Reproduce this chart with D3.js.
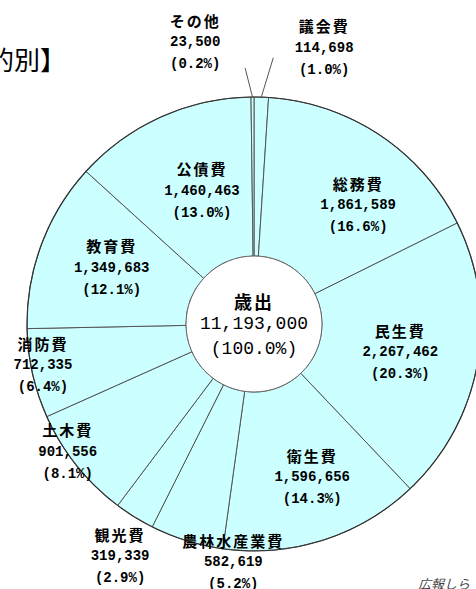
<!DOCTYPE html>
<html>
<head>
<meta charset="utf-8">
<script src="https://cdn.jsdelivr.net/npm/d3@7"></script>
<style>
  body { margin: 0; background: #fff; overflow: hidden; }
  svg { display: block; }
  .name { font-family: "Noto Sans CJK JP", sans-serif; font-weight: 700; font-size: 15px; letter-spacing: 2px; }
  .num { font-family: "Liberation Mono", "DejaVu Sans Mono", monospace; font-weight: 700; font-size: 14px; }
</style>
</head>
<body>
<svg class="chart"></svg>
<script>
// data, clockwise from 12 o'clock
var categories = ['議会費', '総務費', '民生費', '衛生費', '農林水産業費', '観光費',
                  '土木費', '消防費', '教育費', '公債費', 'その他'];
var amounts = [114698, 1861589, 2267462, 1596656, 582619, 319339,
               901556, 712335, 1349683, 1460463, 23500];
var percents = ['1.0', '16.6', '20.3', '14.3', '5.2', '2.9',
                '8.1', '6.4', '12.1', '13.0', '0.2'];
var totalLabel = '歳出';
var totalAmount = 11193000;
var totalPercent = '100.0';

function show() {
    'use strict';

    var width = 476, height = 589;
    var cx = 254, cy = 324, outerR = 227, innerR = 68;

    // label placement: radius and angle offset (deg) from slice middle
    var labelLayout = [
        { r: 285, da: 12.4, lead: { r: 267, da: 2.3 } },
        { r: 158, da: 7.6 },
        { r: 149, da: 0.9 },
        { r: 164, da: -3 },
        { r: 239, da: -12.3 },
        { r: 268, da: -1.8 },
        { r: 226, da: 4.1 },
        { r: 215, da: 1.6 },
        { r: 153, da: 1.0 },
        { r: 143, da: 2.9 },
        { r: 288, da: -11.4, lead: { r: 256, da: -1.6 } }
    ];

    var svg = d3.select('.chart')
        .attr('width', width)
        .attr('height', height);

    // cut-off title and footer
    svg.append('text')
        .attr('x', 66).attr('y', 58)
        .attr('text-anchor', 'end')
        .attr('dominant-baseline', 'central')
        .style('font-family', '"Noto Sans CJK JP", sans-serif')
        .style('font-size', '26px')
        .text('【歳出目的別】');

    svg.append('text')
        .attr('x', 418).attr('y', 583)
        .attr('dominant-baseline', 'central')
        .style('font-family', '"Noto Sans CJK JP", sans-serif')
        .style('font-size', '13px')
        .style('font-style', 'italic')
        .attr('fill', '#444')
        .text('広報しら');

    var g = svg.append('g')
        .attr('transform', 'translate(' + cx + ',' + cy + ')');

    var rows = categories.map(function (c, i) {
        return { name: c, amount: amounts[i], pct: percents[i], i: i };
    });

    var pie = d3.pie()
        .sort(null)
        .value(function (d) { return d.amount; });

    var arc = d3.arc()
        .innerRadius(innerR)
        .outerRadius(outerR);

    var slices = pie(rows);

    g.selectAll('path.slice').data(slices)
        .enter()
        .append('path')
        .attr('class', 'slice')
        .attr('d', arc)
        .attr('fill', '#ccffff')
        .attr('stroke', '#555')
        .attr('stroke-width', 1);

    // outer border
    g.append('circle')
        .attr('r', outerR)
        .attr('fill', 'none')
        .attr('stroke', '#333')
        .attr('stroke-width', 1.2);

    // center hole
    g.append('circle')
        .attr('r', innerR)
        .attr('fill', '#fff')
        .attr('stroke', '#666')
        .attr('stroke-width', 1);

    function polar(angle, r) {
        return [Math.sin(angle) * r, -Math.cos(angle) * r];
    }

    var fmt = d3.format(',');
    var lineGap = 22;

    // leader lines for the thin slices
    slices.forEach(function (s) {
        var lay = labelLayout[s.data.i];
        if (!lay.lead) return;
        var mid = (s.startAngle + s.endAngle) / 2;
        var p0 = polar(mid, outerR);
        var p1 = polar(mid + lay.lead.da * Math.PI / 180, lay.lead.r);
        g.append('line')
            .attr('x1', p0[0]).attr('y1', p0[1])
            .attr('x2', p1[0]).attr('y2', p1[1])
            .attr('stroke', '#555')
            .attr('stroke-width', 1);
    });

    var labels = g.selectAll('g.label').data(slices)
        .enter()
        .append('g')
        .attr('class', 'label')
        .attr('transform', function (s) {
            var lay = labelLayout[s.data.i];
            var mid = (s.startAngle + s.endAngle) / 2;
            var p = polar(mid + lay.da * Math.PI / 180, lay.r);
            return 'translate(' + p[0] + ',' + p[1] + ')';
        });

    labels.append('text')
        .attr('class', 'name')
        .attr('text-anchor', 'middle')
        .attr('dominant-baseline', 'central')
        .attr('y', -lineGap)
        .text(function (s) { return s.data.name; });

    labels.append('text')
        .attr('class', 'num')
        .attr('text-anchor', 'middle')
        .attr('dominant-baseline', 'central')
        .text(function (s) { return fmt(s.data.amount); });

    labels.append('text')
        .attr('class', 'num')
        .attr('text-anchor', 'middle')
        .attr('dominant-baseline', 'central')
        .attr('y', lineGap)
        .text(function (s) { return '(' + s.data.pct + '%)'; });

    // total in the middle
    g.append('text')
        .attr('class', 'name')
        .attr('text-anchor', 'middle')
        .attr('dominant-baseline', 'central')
        .attr('y', -23)
        .style('font-size', '18px')
        .text(totalLabel);

    g.append('text')
        .attr('class', 'num')
        .attr('text-anchor', 'middle')
        .attr('dominant-baseline', 'central')
        .style('font-size', '18px')
        .style('font-weight', 400)
        .text(fmt(totalAmount));

    g.append('text')
        .attr('class', 'num')
        .attr('text-anchor', 'middle')
        .attr('dominant-baseline', 'central')
        .attr('y', 25)
        .style('font-size', '18px')
        .style('font-weight', 400)
        .text('(' + totalPercent + '%)');
}

show();
</script>
</body>
</html>
